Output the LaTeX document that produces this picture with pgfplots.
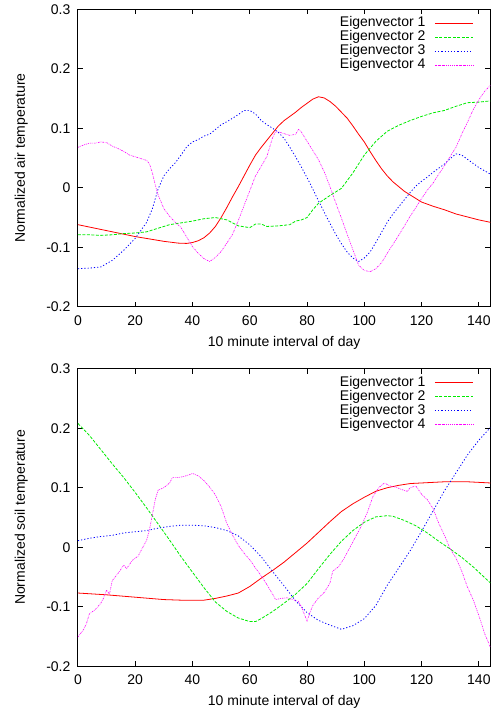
\documentclass[border=0pt]{standalone}
\usepackage{pgfplots}
\pgfplotsset{compat=1.18}
\usepackage{fontspec}
\setmainfont{Liberation Sans}
\definecolor{gpred}{RGB}{255,0,0}
\definecolor{gpgreen}{RGB}{0,235,0}
\definecolor{gpblue}{RGB}{0,0,255}
\definecolor{gpmag}{RGB}{255,0,255}
\pgfplotsset{
  legend image code/.code={\draw[#1, line width=1pt] (0pt,0pt) -- (38pt,0pt);},
  s1/.style={color=gpred, line width=0.8pt},
  s2/.style={color=gpgreen, line width=0.8pt, dash pattern=on 3pt off 1.5pt},
  s3/.style={color=gpblue, line width=0.8pt, dash pattern=on 1.2pt off 2pt},
  s4/.style={color=gpmag, line width=0.6pt, dash pattern=on 1.6pt off 1pt on 0.6pt off 1pt},
  myaxis/.style={
    scale only axis, width=412.7pt, height=297.7pt,
    xmin=0, xmax=144, ymin=-0.2, ymax=0.3,
    xtick={0,20,...,140}, ytick={-0.2,-0.1,0,0.1,0.2,0.3},
    tick align=inside, major tick length=5pt,
    axis line style={line width=0.9pt},
    every tick/.style={line width=0.9pt, black},
    /pgf/number format/assume math mode=true,
    tick label style={font=\fontsize{14}{16}\selectfont},
    xticklabel style={anchor=north, yshift=-5.3pt},
    yticklabel style={anchor=east, xshift=-4pt, /pgf/number format/fixed},
    label style={font=\fontsize{14}{16}\selectfont},
    xlabel style={at={(axis description cs:0.5,-0.133)}, anchor=base},
    ylabel style={at={(axis description cs:-0.1286,0.5)}, anchor=base},
    legend style={draw=none, fill=none, at={(1,1)}, anchor=north east,
      xshift=-16.7pt, yshift=-7.4pt, inner xsep=0pt, inner ysep=0pt,
      font=\fontsize{14}{16}\selectfont,
      nodes={inner sep=0pt, text height=10pt, text depth=3pt},
      row sep=1pt, column sep=9pt},
    legend plot pos=right, legend cell align=right,
  },
}
\begin{document}
\begin{tikzpicture}
\path (0,0) rectangle (499pt,-712pt);
% ---------------- top: air temperature
\begin{axis}[myaxis, at={(78pt,-9.3pt)}, anchor=north west,
  xlabel={10 minute interval of day}, ylabel={Normalized air temperature}]
\addplot[s1] table {
0 -0.062
5 -0.067
10 -0.072
15 -0.077
20 -0.082
25 -0.086
30 -0.090
35 -0.093
38 -0.0935
40 -0.092
42 -0.089
44 -0.084
46 -0.076
48 -0.065
50 -0.050
52 -0.033
54 -0.015
56 0.002
58 0.020
60 0.038
62 0.055
64 0.068
66 0.080
68 0.092
70 0.104
72 0.113
74 0.120
76 0.127
78 0.135
80 0.142
82 0.149
84 0.153
86 0.151
88 0.145
90 0.137
92 0.127
94 0.117
96 0.104
98 0.090
100 0.077
102 0.061
104 0.046
106 0.032
108 0.020
110 0.010
112 0.002
114 -0.006
116 -0.012
118 -0.018
120 -0.024
124 -0.031
128 -0.037
132 -0.044
136 -0.049
140 -0.054
144 -0.058
};
\addlegendentry{Eigenvector 1}
\addplot[s2] table {
0 -0.079
4 -0.079
8 -0.080
12 -0.079
16 -0.077
20 -0.076
24 -0.074
28 -0.068
32 -0.062
36 -0.059
40 -0.056
44 -0.052
48 -0.050
52 -0.054
56 -0.064
60 -0.067
62 -0.061
64 -0.061
66 -0.065
70 -0.064
74 -0.062
76 -0.056
78 -0.054
80 -0.050
82 -0.037
84 -0.026
88 -0.013
92 -0.001
96 0.025
100 0.055
104 0.078
108 0.095
112 0.105
116 0.113
120 0.120
124 0.126
128 0.130
132 0.137
136 0.143
140 0.144
144 0.146
};
\addlegendentry{Eigenvector 2}
\addplot[s3] table {
0 -0.136
4 -0.135
8 -0.133
12 -0.122
16 -0.105
20 -0.085
24 -0.058
26 -0.035
28 -0.002
30 0.020
32 0.032
34 0.042
36 0.055
38 0.069
40 0.077
42 0.081
44 0.087
46 0.090
48 0.098
50 0.106
52 0.111
54 0.117
56 0.123
58 0.130
60 0.130
62 0.124
64 0.113
66 0.106
68 0.100
70 0.093
72 0.083
74 0.068
76 0.052
78 0.035
80 0.017
82 -0.002
84 -0.022
86 -0.041
88 -0.060
90 -0.078
92 -0.094
94 -0.108
96 -0.118
98 -0.124
100 -0.118
102 -0.108
104 -0.092
106 -0.075
108 -0.058
110 -0.044
112 -0.032
114 -0.020
116 -0.008
118 0.003
120 0.011
122 0.018
124 0.026
126 0.033
128 0.040
130 0.049
132 0.057
134 0.055
136 0.048
138 0.041
140 0.034
144 0.023
};
\addlegendentry{Eigenvector 3}
\addplot[s4] table {
0 0.068
2 0.072
4 0.075
6 0.075
8 0.077
10 0.076
12 0.070
14 0.066
16 0.061
18 0.055
20 0.052
22 0.049
24 0.046
25 0.040
26 0.025
27 0.005
28 -0.012
30 -0.035
32 -0.048
34 -0.058
36 -0.067
38 -0.083
40 -0.099
42 -0.110
44 -0.119
46 -0.124
48 -0.117
50 -0.107
52 -0.093
54 -0.078
56 -0.055
58 -0.030
60 -0.005
62 0.020
64 0.036
66 0.053
68 0.085
69 0.094
70 0.094
72 0.091
74 0.088
76 0.090
77 0.098
78 0.094
80 0.078
82 0.063
84 0.047
86 0.027
88 0.002
90 -0.025
92 -0.051
94 -0.078
96 -0.104
98 -0.130
100 -0.139
102 -0.141
104 -0.136
106 -0.126
108 -0.110
110 -0.095
112 -0.080
114 -0.064
116 -0.048
118 -0.033
120 -0.018
122 -0.004
124 0.008
126 0.023
128 0.037
130 0.053
132 0.068
134 0.090
136 0.110
138 0.131
140 0.148
142 0.162
144 0.172
};
\addlegendentry{Eigenvector 4}
\end{axis}
% ---------------- bottom: soil temperature
\begin{axis}[myaxis, at={(78pt,-369pt)}, anchor=north west,
  xlabel={10 minute interval of day}, ylabel={Normalized soil temperature}]
\addplot[s1] table {
0 -0.077
10 -0.080
20 -0.084
30 -0.088
36 -0.089
44 -0.089
48 -0.086
52 -0.082
56 -0.077
60 -0.066
64 -0.052
68 -0.039
72 -0.025
76 -0.009
80 0.007
84 0.025
88 0.043
92 0.060
96 0.073
100 0.084
104 0.094
108 0.100
112 0.104
116 0.107
120 0.108
124 0.109
128 0.110
132 0.110
136 0.110
140 0.109
144 0.108
};
\addlegendentry{Eigenvector 1}
\addplot[s2] table {
0 0.208
4 0.188
8 0.164
12 0.140
16 0.117
20 0.092
24 0.066
28 0.039
32 0.012
36 -0.016
40 -0.042
44 -0.068
48 -0.092
52 -0.108
56 -0.119
60 -0.125
62 -0.125
64 -0.120
68 -0.108
72 -0.094
76 -0.079
80 -0.061
84 -0.036
88 -0.012
92 0.010
96 0.028
100 0.042
104 0.051
108 0.053
110 0.052
114 0.045
118 0.036
122 0.024
126 0.010
130 -0.003
134 -0.017
138 -0.033
144 -0.060
};
\addlegendentry{Eigenvector 2}
\addplot[s3] table {
0 0.011
4 0.015
8 0.018
12 0.020
16 0.024
20 0.026
24 0.028
28 0.032
32 0.035
36 0.037
40 0.037
44 0.036
48 0.033
52 0.028
56 0.019
60 0.004
64 -0.016
68 -0.041
72 -0.065
76 -0.090
80 -0.110
84 -0.123
88 -0.131
92 -0.138
96 -0.132
100 -0.120
104 -0.098
108 -0.064
112 -0.035
116 -0.006
120 0.027
124 0.061
128 0.095
132 0.125
136 0.155
140 0.180
144 0.201
};
\addlegendentry{Eigenvector 3}
\addplot[s4] table {
0 -0.151
2 -0.138
3 -0.128
4 -0.112
6 -0.105
8 -0.094
9 -0.085
10 -0.072
11 -0.079
12 -0.056
14 -0.044
16 -0.030
17 -0.036
19 -0.022
21 -0.015
23 0.003
24 0.012
25 0.030
26 0.055
27 0.080
28 0.096
30 0.100
32 0.108
33 0.117
35 0.117
37 0.119
39 0.122
40 0.124
42 0.120
44 0.112
46 0.101
48 0.088
50 0.068
52 0.040
54 0.020
56 0.003
58 -0.010
60 -0.021
62 -0.035
64 -0.048
66 -0.063
68 -0.079
69 -0.088
71 -0.086
73 -0.085
75 -0.088
77 -0.091
78 -0.100
80 -0.124
81 -0.110
82 -0.098
84 -0.085
86 -0.076
88 -0.060
89 -0.040
91 -0.033
93 -0.018
95 0.000
97 0.018
99 0.036
101 0.058
103 0.085
105 0.100
107 0.108
109 0.103
111 0.101
113 0.097
115 0.094
116 0.100
118 0.103
120 0.089
122 0.080
124 0.065
126 0.040
128 0.020
130 -0.003
132 -0.018
134 -0.040
136 -0.067
138 -0.088
140 -0.115
142 -0.145
144 -0.168
};
\addlegendentry{Eigenvector 4}
\end{axis}
\end{tikzpicture}
\end{document}
